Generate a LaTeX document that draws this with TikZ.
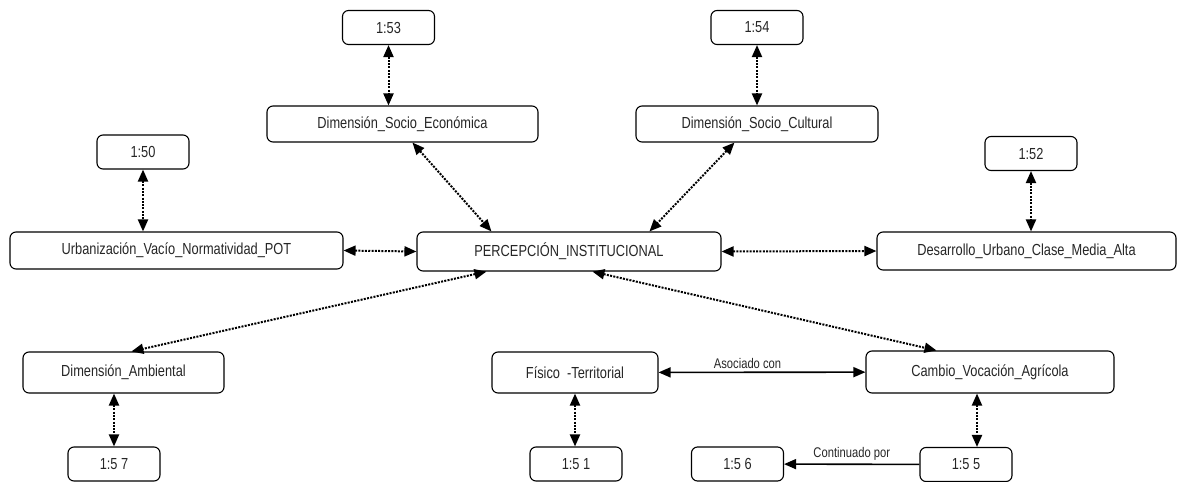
\documentclass[tikz,border=0pt]{standalone}
\usepackage{fontspec}
\setmainfont{Liberation Sans}[FakeStretch=0.8]
\usetikzlibrary{calc, arrows.meta}

\begin{document}
\begin{tikzpicture}[x=1pt, y=-1pt,
        box/.style={draw, line width=1.1pt, rounded corners=6pt, inner sep=0pt,
            font=\fontsize{16}{19}\selectfont, text=black!85},
        numbox/.style={box, minimum width=92pt, minimum height=34pt},
        dotarrow/.style={{Triangle[length=12pt,width=10pt]}-{Triangle[length=12pt,width=10pt]},
            line width=2pt, dash pattern=on 2pt off 1.3pt},
        solidarrow/.style={line width=1.6pt},
        lbl/.style={font=\fontsize{14}{16}\selectfont, text=black!85, inner sep=3pt}]
        \useasboundingbox (0,0) rectangle (1187,482);

        % codes
        \node[numbox] (c53) at (388.5,27.5) {1:53};
        \node[numbox] (c54) at (757,27.5) {1:54};
        \node[numbox] (c50) at (143,152) {1:50};
        \node[numbox] (c52) at (1031,153.5) {1:52};
        \node[numbox] (c57) at (114,464) {1:5 7};
        \node[numbox] (c51) at (576,464) {1:5 1};
        \node[numbox] (c56) at (737.5,464) {1:5 6};
        \node[numbox] (c55) at (966,464.5) {1:5 5};

        % categories
        \node[box, minimum width=271pt, minimum height=36pt] (socEco) at (402.5,124) {Dimensión\_Socio\_Económica};
        \node[box, minimum width=242pt, minimum height=36pt] (socCult) at (757,124) {Dimensión\_Socio\_Cultural};
        \node[box, minimum width=333pt, minimum height=37pt] (urb) at (176.5,250.5) {Urbanización\_Vacío\_Normatividad\_POT};
        \node[box, minimum width=304pt, minimum height=39pt] (perc) at (569,251.5) {PERCEPCIÓN\_INSTITUCIONAL};
        \node[box, minimum width=299pt, minimum height=38pt] (desa) at (1026.5,251) {Desarrollo\_Urbano\_Clase\_Media\_Alta};
        \node[box, minimum width=201pt, minimum height=41pt] (amb) at (123.5,372.5) {Dimensión\_Ambiental};
        \node[box, minimum width=166pt, minimum height=41pt] (fis) at (575,372.5) {Físico~ -Territorial};
        \node[box, minimum width=248pt, minimum height=42pt] (cambio) at (990,372) {Cambio\_Vocación\_Agrícola};
        \coordinate (cambioLow) at ($(cambio.south)+(-13,0)$);

        % dotted links
        \draw[dotarrow] (c53.south) -- (c53.south |- socEco.north);
        \draw[dotarrow] (c54.south) -- (c54.south |- socCult.north);
        \draw[dotarrow] (c50.south) -- (c50.south |- urb.north);
        \draw[dotarrow] (c52.south) -- (c52.south |- desa.north);
        \draw[dotarrow] (urb.east) -- (perc.west);
        \draw[dotarrow] (perc.east) -- (desa.west);
        \draw[dotarrow] ($(socEco.south west)+(146,0)$) -- ($(perc.north west)+(75,0)$);
        \draw[dotarrow] ($(socCult.south west)+(99,0)$) -- ($(perc.north west)+(233,0)$);
        \draw[dotarrow] ($(perc.south west)+(70,0)$) -- ($(amb.north west)+(109,0)$);
        \draw[dotarrow] ($(perc.south west)+(176,0)$) -- ($(cambio.north west)+(71,0)$);
        \draw[dotarrow] (c57.north |- amb.south) -- (c57.north);
        \draw[dotarrow] (fis.south) -- (fis.south |- c51.north);
        \draw[dotarrow] (cambioLow) -- (cambioLow |- c55.north);

        % solid links
        \draw[solidarrow, {Triangle[length=12pt,width=10pt]}-{Triangle[length=12pt,width=10pt]}] (fis) -- node[lbl, above, pos=0.43] {Asociado con} (cambio);
        \draw[solidarrow, -{Triangle[length=12pt,width=10pt]}] (c55) -- node[lbl, above] {Continuado por} (c56);
    \end{tikzpicture}
\end{document}
